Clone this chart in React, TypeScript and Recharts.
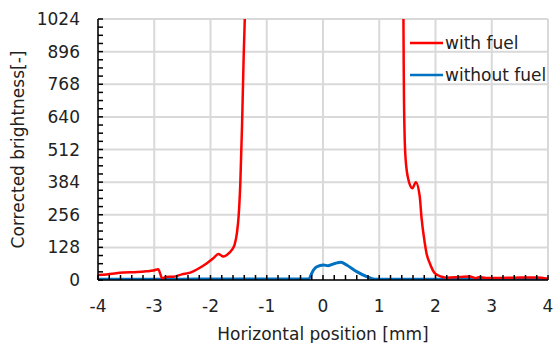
import React from 'react';
import { LineChart, Line, XAxis, YAxis, CartesianGrid, Legend } from 'recharts';

const xMajorTicks = [-4, -3, -2, -1, 0, 1, 2, 3, 4];
const yMajorTicks = [0, 128, 256, 384, 512, 640, 768, 896, 1024];
const xAllTicks = Array.from({ length: 41 }, (_, i) => Math.round((-4 + i * 0.2) * 10) / 10);
const yAllTicks = Array.from({ length: 33 }, (_, i) => i * 32);

const withFuelX = [-4, -3.85, -3.55, -3.3, -3.14, -3.02, -2.93, -2.89, -2.86, -2.83, -2.8, -2.66, -2.51, -2.36, -2.19, -2.07, -1.95, -1.86, -1.8, -1.77, -1.7, -1.62, -1.57, -1.53, -1.5, -1.47, -1.44, -1.41, -1.38, -1.36, 1.41, 1.43, 1.435, 1.44, 1.45, 1.47, 1.52, 1.59, 1.65, 1.72, 1.75, 1.81, 1.84, 1.9, 1.99, 2.11, 2.2, 2.44, 2.61, 2.72, 2.77, 2.9, 3.09, 3.4, 3.8, 4];
const withFuelY = [20, 22, 29, 31, 34, 37, 42, 22, 5, 8, 12, 13, 22, 29, 48, 65, 85, 102, 95, 92, 100, 118, 140, 185, 250, 380, 600, 880, 1100, 1250, 1250, 1024, 836, 706, 576, 471, 392, 360, 384, 327, 248, 144, 105, 65, 26, 13, 9, 12, 14, 7, 11, 8, 8, 9, 10, 5];

const withoutFuelX = [-4, -3.5, -3, -2.5, -2, -1.5, -1, -0.5, -0.26, -0.17, -0.11, 0.01, 0.09, 0.21, 0.32, 0.42, 0.6, 0.78, 0.92, 1.5, 2, 2.5, 3, 3.5, 4];
const withoutFuelY = [3, 3, 3, 3, 4, 4, 4, 4, 4, 39, 52, 59, 56, 65, 70, 59, 33, 13, 3, 3, 3, 3, 3, 3, 3];

const withFuel = withFuelX.map((x, i) => ({ x, y: withFuelY[i] }));
const withoutFuel = withoutFuelX.map((x, i) => ({ x, y: withoutFuelY[i] }));

const FONT = 'DejaVu Sans';
const TEXT = '#222';

const XTick = (props: any) => {
  const { x, y, payload } = props;
  const v = payload.value;
  const major = xMajorTicks.includes(v);
  return (
    <g>
      <line x1={x} y1={y - 20} x2={x} y2={y - 25} stroke="#000" strokeWidth={1.5} />
      {major && (
        <text x={x} y={y} dy="0.71em" textAnchor="middle" fill={TEXT} fontSize={17} fontFamily={FONT}>
          {String(v)}
        </text>
      )}
    </g>
  );
};

const YTick = (props: any) => {
  const { x, y, payload } = props;
  const v = payload.value;
  const major = yMajorTicks.includes(v);
  return (
    <g>
      <line x1={x + 18} y1={y} x2={x + 23} y2={y} stroke="#000" strokeWidth={1.5} />
      {major && (
        <text x={x} y={y} dy="0.355em" textAnchor="end" fill={TEXT} fontSize={17} fontFamily={FONT}>
          {String(v)}
        </text>
      )}
    </g>
  );
};

const renderLegend = (props: any) => {
  const { payload } = props;
  return (
    <div style={{ fontFamily: FONT, fontSize: 17, color: TEXT }}>
      {(payload || []).map((p: any, i: number) => (
        <div key={i} style={{ display: 'flex', alignItems: 'center', height: 32 }}>
          <svg width={35} height={6} style={{ display: 'block' }}>
            <line x1={0} y1={3} x2={33} y2={3} stroke={p.color} strokeWidth={2.5} />
          </svg>
          <span style={{ whiteSpace: 'nowrap', lineHeight: '17px' }}>{p.value}</span>
        </div>
      ))}
    </div>
  );
};

export default function App() {
  return (
    <div style={{ position: 'absolute', left: 0, top: 0 }}>
      <LineChart width={555} height={343} margin={{ top: 19, right: 7, left: 0, bottom: 0 }}>
        <CartesianGrid stroke="#D9D9D9" strokeWidth={2} verticalValues={xMajorTicks} horizontalValues={yMajorTicks} />
        <XAxis
          dataKey="x"
          type="number"
          domain={[-4, 4]}
          ticks={xAllTicks}
          interval={0}
          height={63}
          tickSize={0}
          tickMargin={20}
          tickLine={false}
          axisLine={{ stroke: '#000', strokeWidth: 1.5 }}
          tick={XTick}
          label={{
            content: (p: any) => {
              const vb = p.viewBox;
              return (
                <text x={vb.x + vb.width / 2} y={vb.y + 60} textAnchor="middle" fill={TEXT} fontSize={17} fontFamily={FONT}>
                  Horizontal position [mm]
                </text>
              );
            },
          }}
        />
        <XAxis
          xAxisId="top"
          orientation="top"
          type="number"
          domain={[-4, 4]}
          height={0}
          tick={false}
          tickLine={false}
          axisLine={{ stroke: '#000', strokeWidth: 1.5 }}
        />
        <YAxis
          type="number"
          domain={[0, 1024]}
          ticks={yAllTicks}
          interval={0}
          width={98}
          tickSize={0}
          tickMargin={18}
          tickLine={false}
          allowDataOverflow
          axisLine={{ stroke: '#000', strokeWidth: 1.5 }}
          tick={YTick}
          label={{
            content: (p: any) => {
              const vb = p.viewBox;
              const cx = 18;
              const cy = vb.y + vb.height / 2;
              return (
                <text x={cx} y={cy} transform={`rotate(-90 ${cx} ${cy})`} textAnchor="middle" dominantBaseline="central" fill={TEXT} fontSize={17} fontFamily={FONT}>
                  Corrected brightness[-]
                </text>
              );
            },
          }}
        />
        <YAxis
          yAxisId="right"
          orientation="right"
          type="number"
          domain={[0, 1024]}
          width={0}
          tick={false}
          tickLine={false}
          axisLine={{ stroke: '#000', strokeWidth: 1.5 }}
        />
        <Legend
          layout="horizontal"
          verticalAlign="middle"
          align="center"
          content={renderLegend}
          wrapperStyle={{ position: 'absolute', left: 410, top: 27, width: 140, height: 64 }}
        />
        <Line
          data={withoutFuel}
          dataKey="y"
          name="without fuel"
          type="monotone"
          stroke="#0070C0"
          strokeWidth={3}
          dot={false}
          isAnimationActive={false}
        />
        <Line
          data={withFuel}
          dataKey="y"
          name="with fuel"
          type="monotone"
          stroke="#FF0000"
          strokeWidth={2.5}
          dot={false}
          isAnimationActive={false}
        />
      </LineChart>
    </div>
  );
}
